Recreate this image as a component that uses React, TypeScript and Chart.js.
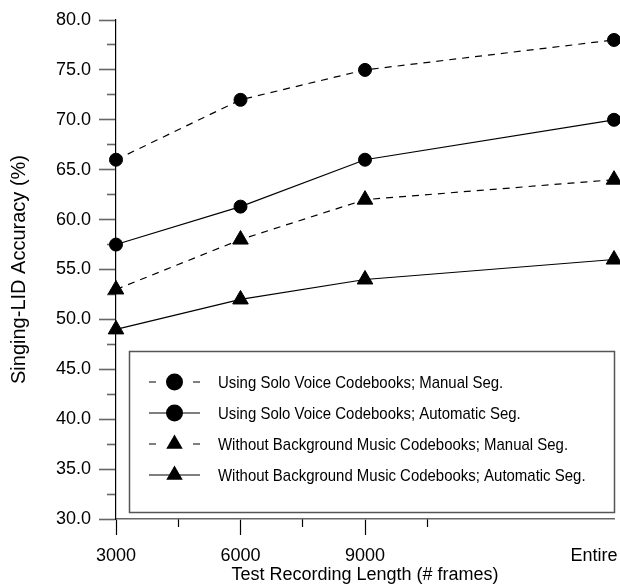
import React, { useEffect, useRef } from 'react';
import { Chart, registerables } from 'chart.js';

Chart.register(...registerables);

const xValues = [3000, 6000, 9000, 15000];
const xTickLabels = ['3000', '6000', '9000', 'Entire        '];
const xMinorTicks = [4500, 7500, 10500];
const yMajorTicks = [30, 35, 40, 45, 50, 55, 60, 65, 70, 75, 80];
const yMinorTicks = [32.5, 37.5, 42.5, 47.5, 52.5, 57.5, 62.5, 67.5, 72.5, 77.5];

const seriesLabels = [
  'Using Solo Voice Codebooks; Manual Seg.',
  'Using Solo Voice Codebooks; Automatic Seg.',
  'Without Background Music Codebooks; Manual Seg.',
  'Without Background Music Codebooks; Automatic Seg.',
];
const soloManual = [66, 72, 75, 78];
const soloAuto = [57.5, 61.3, 66, 70];
const noBgManual = [53, 58, 62, 64];
const noBgAuto = [49, 52, 54, 56];

const FONT = '"Liberation Sans", Arial, Helvetica, sans-serif';

const legendPlugin = {
  id: 'boxLegend',
  afterDraw(chart: any) {
    const ctx = chart.ctx as CanvasRenderingContext2D;
    const area = chart.chartArea;
    const left = 129.5;
    const top = 351.5;
    const right = area.right + 0.5;
    const bottom = 512.5;
    ctx.save();
    ctx.fillStyle = '#fff';
    ctx.fillRect(left, top, right - left, bottom - top);
    ctx.strokeStyle = '#555';
    ctx.lineWidth = 1.5;
    ctx.setLineDash([]);
    ctx.strokeRect(left, top, right - left, bottom - top);

    chart.data.datasets.forEach((ds: any, i: number) => {
      const yc = 382 + i * 31;
      const x0 = 149;
      const x1 = 200;
      const xm = 174.5;
      ctx.strokeStyle = '#000';
      ctx.lineWidth = 1.2;
      ctx.setLineDash([]);
      ctx.beginPath();
      if (ds.borderDash && ds.borderDash.length) {
        ctx.moveTo(x0, yc);
        ctx.lineTo(x0 + 7, yc);
        ctx.moveTo(x1 - 7, yc);
        ctx.lineTo(x1, yc);
      } else {
        ctx.moveTo(x0, yc);
        ctx.lineTo(x1, yc);
      }
      ctx.stroke();
      ctx.fillStyle = '#000';
      ctx.beginPath();
      if (ds.pointStyle === 'triangle') {
        const r = 9.5;
        ctx.moveTo(xm, yc - r);
        ctx.lineTo(xm + Math.sin((2 * Math.PI) / 3) * r, yc + r / 2);
        ctx.lineTo(xm - Math.sin((2 * Math.PI) / 3) * r, yc + r / 2);
        ctx.closePath();
      } else {
        ctx.arc(xm, yc, 8.5, 0, Math.PI * 2);
      }
      ctx.fill();

      ctx.save();
      ctx.font = `17px ${FONT}`;
      ctx.textBaseline = 'middle';
      ctx.textAlign = 'left';
      ctx.translate(218, yc + 1);
      ctx.scale(0.88, 1);
      ctx.fillText(ds.label, 0, 0);
      ctx.restore();
    });
    ctx.restore();
  },
};

function makeDataset(label: string, values: number[], dashed: boolean, style: string) {
  return {
    label,
    data: xValues.map((x, i) => ({ x, y: values[i] })),
    borderColor: '#000',
    backgroundColor: '#000',
    borderWidth: 1.2,
    borderDash: dashed ? [7, 6] : [],
    pointStyle: style,
    pointRadius: style === 'triangle' ? 9 : 6.5,
    pointHoverRadius: style === 'triangle' ? 9 : 6.5,
    pointBackgroundColor: '#000',
    pointBorderColor: '#000',
    pointBorderWidth: 1,
    fill: false,
    tension: 0,
    clip: false as any,
    xAxisID: 'x',
    yAxisID: 'y',
  };
}

const zeroPad = (s: any) => {
  s.paddingLeft = 0;
  s.paddingRight = 0;
  s.paddingTop = 0;
  s.paddingBottom = 0;
};

export default function App() {
  const canvasRef = useRef<HTMLCanvasElement | null>(null);

  useEffect(() => {
    if (!canvasRef.current) return;
    Chart.defaults.font.family = FONT;
    const chart = new Chart(canvasRef.current, {
      type: 'line',
      data: {
        datasets: [
          makeDataset(seriesLabels[0], soloManual, true, 'circle'),
          makeDataset(seriesLabels[1], soloAuto, false, 'circle'),
          makeDataset(seriesLabels[2], noBgManual, true, 'triangle'),
          makeDataset(seriesLabels[3], noBgAuto, false, 'triangle'),
        ] as any,
      },
      options: {
        animation: false,
        responsive: false,
        devicePixelRatio: 1,
        layout: { padding: { top: 20, right: 6, left: 0, bottom: 0 }, autoPadding: false } as any,
        plugins: {
          legend: { display: false },
          tooltip: { enabled: false },
        },
        scales: {
          x: {
            type: 'linear',
            position: 'bottom',
            min: 3000,
            max: 15000,
            afterBuildTicks: (s: any) => {
              s.ticks = xValues.map((v) => ({ value: v }));
            },
            afterFit: (s: any) => {
              s.height = 67;
              zeroPad(s);
            },
            grid: {
              drawOnChartArea: false,
              drawTicks: true,
              tickLength: 16,
              tickWidth: 1.2,
              tickColor: (c: any) => (c.tick && c.tick.value === 15000 ? 'rgba(0,0,0,0)' : '#000'),
            },
            border: { display: true, color: '#666', width: 1.6 },
            ticks: {
              autoSkip: false,
              maxRotation: 0,
              padding: 10,
              color: '#000',
              font: { size: 18, family: FONT },
              callback: (v: any) => {
                const i = xValues.indexOf(Number(v));
                return i >= 0 ? xTickLabels[i] : '';
              },
            },
            title: {
              display: true,
              text: 'Test Recording Length (# frames)',
              color: '#000',
              font: { size: 18, family: FONT },
              padding: { top: 0, bottom: 0 },
            },
          },
          y: {
            type: 'linear',
            position: 'left',
            min: 30,
            max: 80,
            afterBuildTicks: (s: any) => {
              s.ticks = yMajorTicks.map((v) => ({ value: v }));
            },
            afterFit: (s: any) => {
              s.width = 116;
              zeroPad(s);
            },
            grid: {
              drawOnChartArea: false,
              drawTicks: true,
              tickLength: 17,
              tickWidth: 1.6,
              tickColor: '#666',
            },
            border: { display: true, color: '#000', width: 1.2 },
            ticks: {
              padding: 8,
              color: '#000',
              font: { size: 18, family: FONT },
              callback: (v: any) => Number(v).toFixed(1),
            },
            title: {
              display: true,
              text: 'Singing-LID Accuracy (%)',
              color: '#000',
              font: { size: 20, family: FONT },
              padding: { top: 7, bottom: 0 },
            },
          },
          yMinor: {
            type: 'linear',
            axis: 'y',
            position: { x: 3000 } as any,
            min: 30,
            max: 80,
            afterBuildTicks: (s: any) => {
              s.ticks = yMinorTicks.map((v) => ({ value: v }));
            },
            afterFit: zeroPad,
            grid: {
              drawOnChartArea: false,
              drawTicks: true,
              tickLength: 9,
              tickWidth: 1.6,
              tickColor: '#666',
            },
            border: { display: false },
            ticks: { display: false },
          },
          xMinor: {
            type: 'linear',
            axis: 'x',
            position: { y: 30 } as any,
            min: 3000,
            max: 15000,
            afterBuildTicks: (s: any) => {
              s.ticks = xMinorTicks.map((v) => ({ value: v }));
            },
            afterFit: zeroPad,
            grid: {
              drawOnChartArea: false,
              drawTicks: true,
              tickLength: 8,
              tickWidth: 1.2,
              tickColor: '#000',
            },
            border: { display: false },
            ticks: { display: false },
          },
        } as any,
      },
      plugins: [legendPlugin],
    });
    return () => chart.destroy();
  }, []);

  return (
    <div style={{ position: 'absolute', left: 0, top: 0, width: 620, height: 586, background: '#fff' }}>
      <canvas ref={canvasRef} width={620} height={586} style={{ display: 'block', width: 620, height: 586 }} />
    </div>
  );
}
